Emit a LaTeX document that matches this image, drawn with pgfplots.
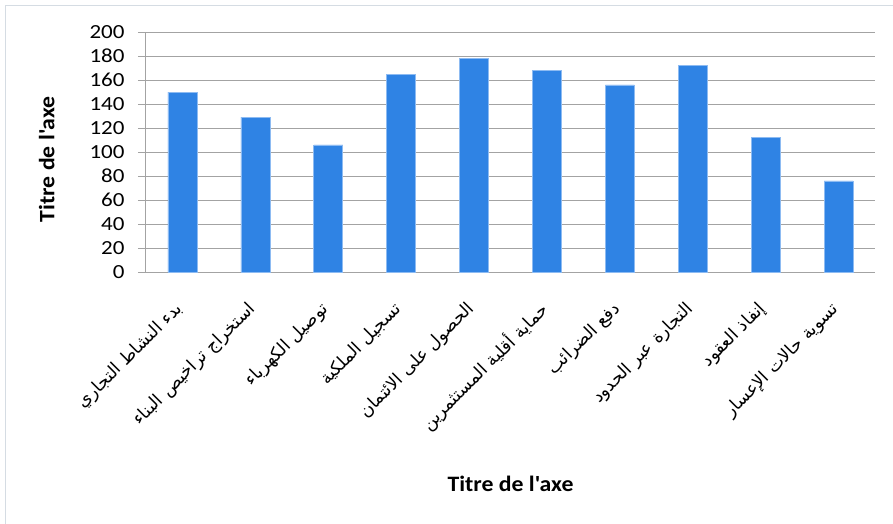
\documentclass[border=0pt]{standalone}
\usepackage{fontspec}
\usepackage{pgfplots}
\pgfplotsset{compat=1.18}
\TeXXeTstate=1
\setmainfont{Carlito}
\newfontfamily\tickf[FakeStretch=1.15]{Carlito}
\newfontfamily\labf[FakeStretch=1.08]{Carlito}
\newfontfamily\arabicfont[Script=Arabic]{DejaVu Sans}
\definecolor{barblue}{HTML}{2F83E4}
\definecolor{baredge}{HTML}{8DBBF2}
\definecolor{gridgray}{HTML}{A3A3A3}
\definecolor{framec}{HTML}{D5DCE3}
\begin{document}
\begin{tikzpicture}
\path[use as bounding box] (-146bp,-252bp) rectangle (747bp,272bp);
\draw[framec, line width=1bp] (-140.5bp,-400bp) -- (-140.5bp,266bp) -- (800bp,266bp);
\begin{axis}[
  at={(0,0)}, anchor=south west,
  scale only axis, width=729bp, height=240bp,
  ymin=0, ymax=200, ytick distance=20,
  xmin=-0.5, xmax=9.5, xtick={0,...,9},
  xticklabels={
    {\beginR بدء النشاط التجاري\endR},
    {\beginR استخراج تراخيص البناء\endR},
    {\beginR توصيل الكهرباء\endR},
    {\beginR تسجيل الملكية\endR},
    {\beginR الحصول على الائتمان\endR},
    {\beginR حماية أقلية المستثمرين\endR},
    {\beginR دفع الضرائب\endR},
    {\beginR التجارة عبر الحدود\endR},
    {\beginR إنفاذ العقود\endR},
    {\beginR تسوية حالات الإعسار\endR}},
  axis lines=left, axis line style={-, gridgray, line width=1bp},
  ymajorgrids, grid style={gridgray, line width=1bp},
  tick align=outside, major tick length=8bp,
  y tick style={gridgray, line width=1bp},
  x tick style={draw=none},
  /pgf/number format/assume math mode=true,
  yticklabel style={font=\fontsize{20bp}{24bp}\tickf, text=black, xshift=-10bp},
  x tick label style={rotate=45, anchor=east, font=\fontsize{17.5bp}{19bp}\arabicfont, text=black},
  xticklabel shift=24bp,
  xlabel={Titre de l'axe}, ylabel={Titre de l'axe},
  xlabel style={font=\fontsize{22bp}{26bp}\labf\bfseries, at={(axis description cs:0.5,-0.883)}, anchor=center},
  ylabel style={font=\fontsize{22bp}{26bp}\labf\bfseries, at={(axis description cs:-0.136,0.47)}, anchor=center},
  clip=false,
]
\addplot[ybar, bar width=29bp, fill=barblue, draw=baredge, line width=0.6bp]
  coordinates {(0,150) (1,129) (2,106) (3,165) (4,178) (5,168) (6,156) (7,172) (8,112) (9,76)};
\end{axis}
\end{tikzpicture}
\end{document}
